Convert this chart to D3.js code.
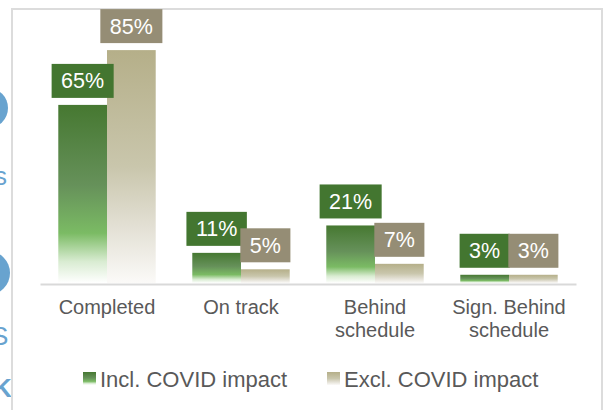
<!DOCTYPE html>
<html>
<head>
<meta charset="utf-8">
<script src="https://cdn.jsdelivr.net/npm/d3@7"></script>
<style>
  body { margin: 0; background: #fff; }
  #chart { width: 603px; height: 410px; }
  text { font-family: "Liberation Sans", Arial, sans-serif; }
</style>
</head>
<body>
<div id="chart"></div>
<script>
var categories = ["Completed", "On track", "Behind schedule", "Sign. Behind schedule"];
var seriesNames = ["Incl. COVID impact", "Excl. COVID impact"];
var inclValues = [65, 11, 21, 3];
var exclValues = [85, 5, 7, 3];

var boxColors = ["#437630", "#958d75"];

function wrap(textSel, width) {
	textSel.each(function() {
		var text = d3.select(this);
		var words = text.text().split(" ");
		var x = text.attr("x");
		var line = [];
		var tspan = text.text(null).append("tspan").attr("x", x).attr("dy", 0);
		var lineNo = 0;
		words.forEach(function(w) {
			line.push(w);
			tspan.text(line.join(" "));
			if (tspan.node().getComputedTextLength() > width && line.length > 1) {
				line.pop();
				tspan.text(line.join(" "));
				line = [w];
				lineNo++;
				tspan = text.append("tspan").attr("x", x).attr("dy", "23.3px").text(w);
			}
		});
	});
}

function plot() {
	var width = 603, height = 410;
	var baseY = 283;

	var svg = d3.select("#chart").append("svg")
	.attr("width", width)
	.attr("height", height);

	var defs = svg.append("defs");
	var g1 = defs.append("linearGradient").attr("id", "gradIncl")
	.attr("x1", 0).attr("y1", 0).attr("x2", 0).attr("y2", 1);
	[["0", "#467831"], ["0.45", "#66915a"], ["0.72", "#7bbb64"], ["0.88", "#d9ecd2"], ["1", "#ffffff"]]
	.forEach(function(s) { g1.append("stop").attr("offset", s[0]).attr("stop-color", s[1]); });
	var g2 = defs.append("linearGradient").attr("id", "gradExcl")
	.attr("x1", 0).attr("y1", 0).attr("x2", 0).attr("y2", 1);
	[["0", "#b5af89"], ["0.5", "#c9c6ac"], ["0.75", "#e2dfd3"], ["1", "#fbfaf8"]]
	.forEach(function(s) { g2.append("stop").attr("offset", s[0]).attr("stop-color", s[1]); });

	// bits of the slide that got cut at the left edge
	var deco = svg.append("g").attr("fill", "#68a3cf");
	deco.append("circle").attr("cx", -12).attr("cy", 108).attr("r", 20);
	deco.append("circle").attr("cx", -12).attr("cy", 273).attr("r", 22);
	deco.append("text").attr("x", -6).attr("y", 185).attr("font-size", 26).text("s");
	deco.append("text").attr("x", -9).attr("y", 345).attr("font-size", 26).text("S");
	deco.append("text").attr("x", -7).attr("y", 397).attr("font-size", 26).attr("font-weight", "bold").text("K");

	// frame
	svg.append("rect")
	.attr("x", 12).attr("y", 9)
	.attr("width", 590).attr("height", 430)
	.attr("fill", "none")
	.attr("stroke", "#dcdcdc")
	.attr("stroke-width", 2);

	var x = d3.scaleBand()
	.domain(categories)
	.range([40, 576])
	.paddingInner(0.273)
	.paddingOuter(0.1365);

	var xs = d3.scaleBand()
	.domain(seriesNames)
	.range([0, x.bandwidth()]);

	var y = d3.scaleLinear()
	.domain([0, 100])
	.range([baseY, 9]);

	var rows = categories.map(function(c, i) {
		return {cat: c, vals: [
			{s: seriesNames[0], v: inclValues[i], k: 0},
			{s: seriesNames[1], v: exclValues[i], k: 1}
		]};
	});

	var groups = svg.selectAll(".grp")
	.data(rows)
	.enter().append("g")
	.attr("class", "grp")
	.attr("transform", function(d) { return "translate(" + x(d.cat) + ",0)"; });

	groups.selectAll("rect.bar")
	.data(function(d) { return d.vals; })
	.enter().append("rect")
	.attr("class", "bar")
	.attr("x", function(d) { return xs(d.s); })
	.attr("y", function(d) { return y(d.v); })
	.attr("width", xs.bandwidth())
	.attr("height", function(d) { return baseY - y(d.v); })
	.attr("fill", function(d) { return d.k == 0 ? "url(#gradIncl)" : "url(#gradExcl)"; });

	// axis line
	var axis = svg.append("g")
	.attr("transform", "translate(0," + (baseY + 1) + ")")
	.call(d3.axisBottom(x).tickSize(0).tickFormat(""));
	axis.select(".domain").attr("stroke", "#d9d9d9").attr("stroke-width", 2);

	svg.selectAll(".catLabel")
	.data(categories)
	.enter().append("text")
	.attr("class", "catLabel")
	.attr("x", function(d) { return x(d) + x.bandwidth() / 2; })
	.attr("y", 314)
	.attr("text-anchor", "middle")
	.attr("font-size", 20)
	.attr("fill", "#595959")
	.text(function(d) { return d; })
	.call(wrap, 130);

	// value boxes
	var lab = groups.selectAll("g.lab")
	.data(function(d) { return d.vals; })
	.enter().append("g")
	.attr("class", "lab");

	lab.append("text")
	.attr("x", function(d) { return xs(d.s) + xs.bandwidth() / 2; })
	.attr("y", function(d) { return y(d.v) - 7 - 9.5; })
	.attr("text-anchor", "middle")
	.attr("font-size", 21.5)
	.attr("fill", "#fff")
	.text(function(d) { return d.v + "%"; })
	.each(function(d) {
		var w = this.getComputedTextLength() + 19;
		var cx = xs(d.s) + xs.bandwidth() / 2;
		d3.select(this.parentNode).insert("rect", "text")
		.attr("x", cx - w / 2)
		.attr("y", y(d.v) - 7 - 34)
		.attr("width", w)
		.attr("height", 34)
		.attr("fill", boxColors[d.k]);
	});

	// legend
	var legX = [83, 327];
	var leg = svg.selectAll(".leg")
	.data(seriesNames)
	.enter().append("g")
	.attr("class", "leg")
	.attr("transform", function(d, i) { return "translate(" + legX[i] + ",372)"; });
	leg.append("rect")
	.attr("width", 13).attr("height", 13)
	.attr("fill", function(d, i) { return i == 0 ? "url(#gradIncl)" : "url(#gradExcl)"; });
	leg.append("text")
	.attr("x", 17)
	.attr("y", 14.5)
	.attr("font-size", 22)
	.attr("fill", "#595959")
	.text(function(d) { return d; });
}

document.addEventListener("DOMContentLoaded", function() {
	plot();
});
</script>
</body>
</html>
